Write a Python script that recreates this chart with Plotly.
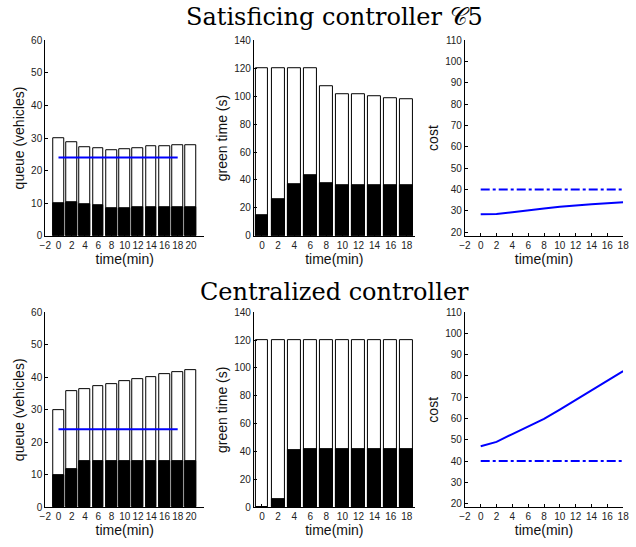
import plotly.graph_objects as go

# ---- data ----
q_time = [0, 2, 4, 6, 8, 10, 12, 14, 16, 18, 20]
g_time = [0, 2, 4, 6, 8, 10, 12, 14, 16, 18]
c_time = [0, 2, 4, 6, 8, 10, 12, 14, 16, 18]
q_ref_time = [0, 18]
q_ref = [24, 24]
c_ref_time = [0, 18]
c_ref = [40, 40]

# Satisficing controller
s_queue_total = [30, 28.7, 27.3, 26.9, 26.3, 26.5, 26.9, 27.4, 27.6, 27.7, 27.7]
s_queue_black = [10, 10.2, 9.8, 9.3, 8.6, 8.5, 8.7, 8.8, 8.9, 8.9, 8.9]
s_green_total = [120, 120, 120, 120, 107, 101.5, 101, 100, 98.5, 98]
s_green_black = [15, 26, 37, 43.5, 37.5, 36, 36, 36, 36, 36]
s_cost = [28.3, 28.5, 29.3, 30.3, 31.0, 31.8, 32.5, 33.0, 33.5, 34.0]

# Centralized controller
c_queue_total = [30, 35.8, 36.4, 37.3, 38, 38.7, 39.4, 40.1, 40.9, 41.6, 42.3]
c_queue_black = [10, 11.8, 14.2, 14.3, 14.3, 14.3, 14.3, 14.3, 14.3, 14.3, 14.3]
c_green_total = [120, 120, 120, 120, 120, 120, 120, 120, 120, 120]
c_green_black = [0, 6, 41, 42, 42, 42, 42, 42, 42, 42]
c_cost = [47, 49, 52.7, 56.3, 59.8, 64.2, 68.7, 73.2, 78, 82.3]

titles = ["Satisficing controller \U0001D49E5", "Centralized controller"]

W, H = 636, 547
cols_px = [(40, 202), (252.7, 416.7), (467.7, 629)]
rows_px = [(35, 235), (313, 512.7)]

fig = go.Figure()

def dom_x(c):
    a, b = cols_px[c]
    return [a / W, b / W]

def dom_y(r):
    a, b = rows_px[r]
    return [1 - b / H, 1 - a / H]

tickfont = dict(family="Liberation Sans, Arial, sans-serif", size=10, color="#222")
titlefont = dict(family="Liberation Sans, Arial, sans-serif", size=14, color="#111")

datasets = [
    (s_queue_total, s_queue_black, s_green_total, s_green_black, s_cost),
    (c_queue_total, c_queue_black, c_green_total, c_green_black, c_cost),
]

n = 0
for r, (qt, qb, gt, gb, cc) in enumerate(datasets):
    for c in range(3):
        n += 1
        xa = "x" if n == 1 else f"x{n}"
        ya = "y" if n == 1 else f"y{n}"
        if c == 0:
            fig.add_trace(go.Bar(x=q_time, y=qt, width=1.6, marker=dict(color="white", line=dict(color="black", width=1)),
                                 xaxis=xa, yaxis=ya, showlegend=False))
            fig.add_trace(go.Bar(x=q_time, y=qb, width=1.6, marker=dict(color="black", line=dict(color="black", width=1)),
                                 xaxis=xa, yaxis=ya, showlegend=False))
            fig.add_trace(go.Scatter(x=q_ref_time, y=q_ref, mode="lines", line=dict(color="#0000ff", width=2),
                                     xaxis=xa, yaxis=ya, showlegend=False))
            xr, yr = [-2, 22], [0, 60]
            xt = list(range(-2, 21, 2)); yt = list(range(0, 61, 10))
            ytitle = "queue (vehicles)"
        elif c == 1:
            fig.add_trace(go.Bar(x=g_time, y=gt, width=1.6, marker=dict(color="white", line=dict(color="black", width=1)),
                                 xaxis=xa, yaxis=ya, showlegend=False))
            fig.add_trace(go.Bar(x=g_time, y=gb, width=1.6, marker=dict(color="black", line=dict(color="black", width=1)),
                                 xaxis=xa, yaxis=ya, showlegend=False))
            xr, yr = [-1, 19], [0, 140]
            xt = list(range(0, 19, 2)); yt = list(range(0, 141, 20))
            ytitle = "green time (s)"
        else:
            fig.add_trace(go.Scatter(x=c_time, y=cc, mode="lines", line=dict(color="#0000ff", width=2),
                                     xaxis=xa, yaxis=ya, showlegend=False))
            fig.add_trace(go.Scatter(x=c_ref_time, y=c_ref, mode="lines", line=dict(color="#0000ff", width=2, dash="dashdot"),
                                     xaxis=xa, yaxis=ya, showlegend=False))
            xr, yr = [-2, 18], [18.2, 110]
            xt = list(range(-2, 19, 2)); yt = list(range(20, 111, 10))
            ytitle = "cost"
        xkey = "xaxis" if n == 1 else f"xaxis{n}"
        ykey = "yaxis" if n == 1 else f"yaxis{n}"
        fig.update_layout(**{
            xkey: dict(domain=dom_x(c), anchor=ya, range=xr, tickvals=xt,
                       ticktext=[("\u2212" + str(-v)) if v < 0 else str(v) for v in xt],
                       tickangle=0,
                       showgrid=False, zeroline=False, showline=True, linecolor="black", linewidth=1,
                       ticks="inside", ticklen=3, tickcolor="black", tickfont=tickfont,
                       title=dict(text="time(min)", font=titlefont, standoff=1), fixedrange=True),
            ykey: dict(domain=dom_y(r), anchor=xa, range=yr, tickvals=yt,
                       showgrid=False, zeroline=False, showline=True, linecolor="black", linewidth=1,
                       ticks="inside", ticklen=3, tickcolor="black", tickfont=tickfont,
                       title=dict(text=ytitle, font=titlefont, standoff=3), fixedrange=True),
        })

annos = []
for r, t in enumerate(titles):
    ypx = [11, 292][r]
    annos.append(dict(text=t, x=334.7 / W, y=1 - ypx / H, xref="paper", yref="paper", showarrow=False,
                      xanchor="center", yanchor="middle",
                      font=dict(family="DejaVu Serif, Liberation Serif, serif", size=24, color="black")))

fig.update_layout(width=W, height=H, autosize=False, margin=dict(l=0, r=0, t=0, b=0),
                  barmode="overlay", bargap=0, plot_bgcolor="white", paper_bgcolor="white",
                  annotations=annos, showlegend=False)

fig.write_html("out.html", config={"displayModeBar": False},
               post_script="document.body.style.margin='0';document.body.style.overflow='hidden';")
